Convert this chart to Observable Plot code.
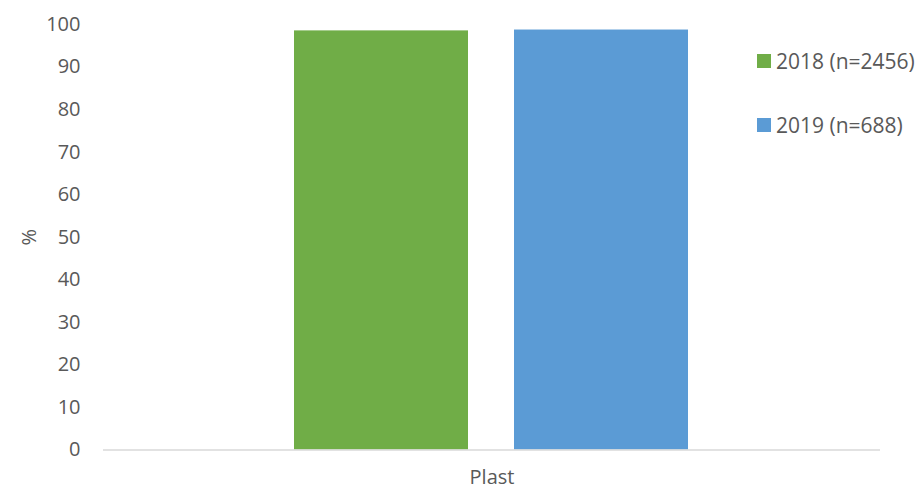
<!DOCTYPE html>
<html>
<head>
<meta charset="utf-8">
<script src="https://cdn.jsdelivr.net/npm/d3@7"></script>
<script src="https://cdn.jsdelivr.net/npm/@observablehq/plot@0.6"></script>
<style>
  html, body { margin: 0; padding: 0; background: #fff; }
  #wrap { position: relative; width: 918px; height: 490px; font-family: "Open Sans", sans-serif; }
  .leg { position: absolute; display: flex; align-items: center; font-size: 21px; color: #595959; white-space: nowrap; }
  .sw { width: 14px; height: 14px; margin-right: 5px; }
</style>
</head>
<body>
<div id="wrap"></div>
<script>
const categories = ["Plast"];
const series = ["2018 (n=2456)", "2019 (n=688)"];
const values2018 = [98.5];
const values2019 = [98.7];
const colors = ["#70ad47", "#5b9bd5"];
const yTicks = [0, 10, 20, 30, 40, 50, 60, 70, 80, 90, 100];

const data = categories.flatMap((c, i) => [
  {cat: c, series: series[0], value: values2018[i]},
  {cat: c, series: series[1], value: values2019[i]}
]);

const chart = Plot.plot({
  width: 918,
  height: 490,
  marginLeft: 103,
  marginRight: 38,
  marginTop: 24,
  marginBottom: 40.5,
  style: {fontFamily: "Open Sans", fontSize: "20px", color: "#595959", background: "#fff", overflow: "visible"},
  fx: {domain: categories, padding: 0, axis: "bottom", tickSize: 0, tickPadding: 20, label: null},
  x: {domain: series, paddingInner: 0.209, paddingOuter: 0.87, axis: null},
  y: {domain: [0, 100], ticks: yTicks, tickSize: 0, tickPadding: 23, label: "%", labelAnchor: "center", labelOffset: 82, labelArrow: false},
  color: {domain: series, range: colors},
  marks: [
    Plot.barY(data, {fx: "cat", x: "series", y: "value", fill: "series"}),
    Plot.ruleY([0], {stroke: "#d9d9d9", strokeWidth: 1.5})
  ]
});

const wrap = document.getElementById("wrap");
wrap.appendChild(chart);

const legTops = [54, 118];
series.forEach((s, i) => {
  const d = document.createElement("div");
  d.className = "leg";
  d.style.left = "757px";
  d.style.top = (legTops[i] - 7) + "px";
  d.style.height = "28px";
  const sw = document.createElement("div");
  sw.className = "sw";
  sw.style.background = colors[i];
  const t = document.createElement("span");
  t.textContent = s;
  d.appendChild(sw);
  d.appendChild(t);
  wrap.appendChild(d);
});
</script>
</body>
</html>
